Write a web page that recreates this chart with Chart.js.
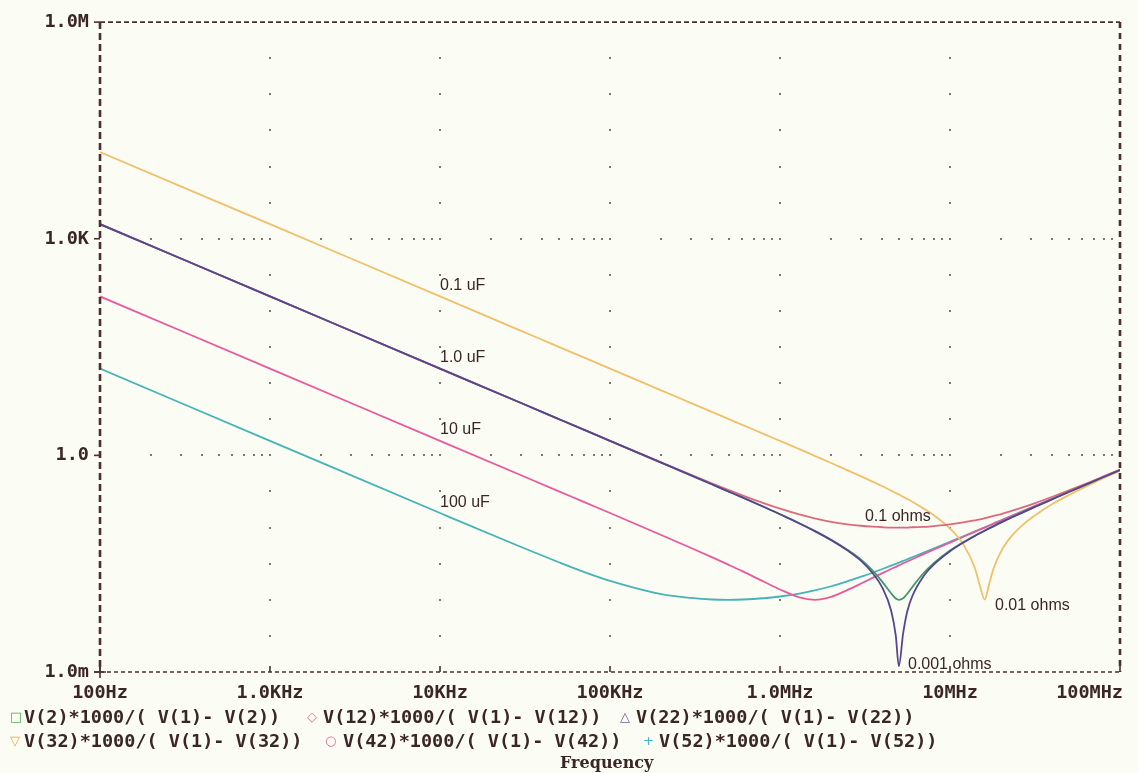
<!DOCTYPE html>
<html>
<head>
<meta charset="utf-8">
<script src="https://cdn.jsdelivr.net/npm/chart.js@4.4.1/dist/chart.umd.min.js"></script>
<style>
  html, body { margin: 0; padding: 0; background: #fbfcf3; }
  #wrap { position: relative; width: 1138px; height: 773px; }
  #chart { position: absolute; left: 0; top: 0; }
  .leg { position: absolute; font: bold 18.5px "DejaVu Sans Mono", monospace; color: #3b2626; white-space: pre; line-height: 20px; }
  .sym { position: absolute; font: 13px "DejaVu Sans", sans-serif; line-height: 20px; }
  #xtitle { position: absolute; left: 560px; top: 753px; font: bold 16px "DejaVu Serif", serif; color: #3b2626; }
</style>
</head>
<body>
<div id="wrap">
  <canvas id="chart" width="1138" height="773"></canvas>
  <div id="legend"></div>
  <div id="xtitle">Frequency</div>
</div>
<script>
// ==================== DATA ====================
const freqs = [100, 1e3, 1e4, 3e4, 5e4, 7e4, 1e5, 2e5, 3e5, 4e5, 5e5, 6e5, 8e5, 1e6,
  1.3e6, 1.6e6, 2e6, 2.5e6, 3e6, 3.5e6, 4e6, 4.5e6, 4.8e6, 5e6, 5.3e6, 5.6e6, 6e6, 7e6, 8e6,
  1e7, 1.2e7, 1.4e7, 1.5e7, 1.6e7, 1.7e7, 1.8e7, 2e7, 2.3e7, 2.7e7, 3.2e7, 4e7, 5e7, 6.5e7, 8e7, 1e8];

// V(2): 1.0 uF, 0.01 ohms
const v2 = [1590, 159, 15.9, 5.31, 3.18, 2.27, 1.59, 0.795, 0.529, 0.395, 0.315, 0.262, 0.194, 0.153,
  0.115, 0.090, 0.0677, 0.0490, 0.0360, 0.0255, 0.0177, 0.0123, 0.0104, 0.0100, 0.0105, 0.0121, 0.0150, 0.0235, 0.0320,
  0.0480, 0.0629, 0.0772, 0.0842, 0.0911, 0.0980, 0.105, 0.118, 0.138, 0.164, 0.196, 0.248, 0.311, 0.406, 0.501, 0.627];
// V(12): 1.0 uF, 0.1 ohms
const v12 = [1590, 159, 15.9, 5.31, 3.18, 2.28, 1.59, 0.801, 0.538, 0.408, 0.331, 0.280, 0.218, 0.183,
  0.152, 0.134, 0.120, 0.111, 0.106, 0.103, 0.101, 0.100, 0.100, 0.100, 0.100, 0.100, 0.101, 0.102, 0.105,
  0.111, 0.118, 0.126, 0.130, 0.135, 0.140, 0.145, 0.154, 0.170, 0.192, 0.220, 0.267, 0.327, 0.418, 0.511, 0.635];
// V(22): 1.0 uF, 0.001 ohms
const v22 = [1590, 159, 15.9, 5.31, 3.18, 2.27, 1.59, 0.795, 0.529, 0.395, 0.315, 0.262, 0.194, 0.153,
  0.114, 0.0894, 0.0670, 0.0480, 0.0346, 0.0235, 0.0147, 0.00717, 0.00316, 0.0012, 0.00342, 0.00684, 0.0112, 0.0213, 0.0304,
  0.0469, 0.0621, 0.0766, 0.0836, 0.0906, 0.0975, 0.104, 0.118, 0.138, 0.164, 0.196, 0.247, 0.311, 0.406, 0.501, 0.627];
// V(32): 0.1 uF, 0.01 ohms
const v32 = [15900, 1590, 159, 53.0, 31.8, 22.7, 15.9, 7.96, 5.30, 3.98, 3.18, 2.65, 1.98, 1.59,
  1.22, 0.985, 0.783, 0.621, 0.512, 0.433, 0.373, 0.325, 0.301, 0.287, 0.267, 0.249, 0.228, 0.183, 0.149,
  0.0968, 0.0581, 0.0276, 0.0155, 0.0101, 0.0166, 0.0266, 0.0472, 0.0760, 0.111, 0.151, 0.212, 0.282, 0.384, 0.483, 0.612];
// V(42): 10 uF, 0.01 ohms
const v42 = [159, 15.9, 1.59, 0.530, 0.318, 0.227, 0.159, 0.0790, 0.0521, 0.0386, 0.0304, 0.0249, 0.0179, 0.0139,
  0.0108, 0.0100, 0.0110, 0.0137, 0.0168, 0.0201, 0.0234, 0.0267, 0.0286, 0.0300, 0.0319, 0.0339, 0.0364, 0.0429, 0.0493,
  0.0620, 0.0747, 0.0874, 0.0937, 0.100, 0.106, 0.113, 0.125, 0.144, 0.169, 0.201, 0.251, 0.314, 0.408, 0.503, 0.628];
// V(52): 100 uF, 0.01 ohms
const v52 = [15.9, 1.59, 0.159, 0.0538, 0.0331, 0.0244, 0.0183, 0.0120, 0.0106, 0.0101, 0.0100, 0.0101, 0.0105, 0.0111,
  0.0122, 0.0135, 0.0154, 0.0181, 0.0209, 0.0237, 0.0267, 0.0297, 0.0315, 0.0327, 0.0345, 0.0363, 0.0388, 0.0449, 0.0511,
  0.0635, 0.0759, 0.0884, 0.0947, 0.101, 0.107, 0.114, 0.126, 0.145, 0.170, 0.201, 0.252, 0.314, 0.409, 0.503, 0.628];

const seriesNames = ["V(2)*1000/( V(1)- V(2))", "V(12)*1000/( V(1)- V(12))", "V(22)*1000/( V(1)- V(22))",
  "V(32)*1000/( V(1)- V(32))", "V(42)*1000/( V(1)- V(42))", "V(52)*1000/( V(1)- V(52))"];
const seriesValues = [v2, v12, v22, v32, v42, v52];

const xTicks = [100, 1e3, 1e4, 1e5, 1e6, 1e7, 1e8];
const xTickLabels = ["100Hz", "1.0KHz", "10KHz", "100KHz", "1.0MHz", "10MHz", "100MHz"];
const yTicks = [1e-3, 1, 1e3, 1e6];
const yTickLabels = ["1.0m", "1.0", "1.0K", "1.0M"];

const noteText = ["0.1 uF", "1.0 uF", "10 uF", "100 uF", "0.1 ohms", "0.01 ohms", "0.001 ohms"];
const noteFreq = [1e4, 1e4, 1e4, 1e4, 3.16e6, 1.84e7, 5.66e6];
const noteMag = [224, 22.3, 2.28, 0.225, 0.14, 0.0084, 0.00125];

// ==================== STYLE ====================
const lineColors = ["#3f9b6c", "#dc6a7e", "#574592", "#f0c06c", "#e85a9e", "#45b3b7"];
const drawOrder = [2, 1, 0, 3, 3, 3];   // lower = on top (purple 1.0 uF trace over the others)
const legendSymbols = ["\u25A1", "\u25C7", "\u25B3", "\u25BD", "\u25CB", "+"];
const legendSymColors = ["#4fae4f", "#e07080", "#7a5a9a", "#d8ae3c", "#e8609a", "#3fb6d2"];
const legendPos = [[15, 24, 717], [312, 323, 717], [625, 636, 717], [15, 24, 741], [330, 343, 741], [648, 659, 741]];
const INK = "#3b2626";
const MONO = '"DejaVu Sans Mono", monospace';

// ==================== LEGEND ====================
const legendEl = document.getElementById("legend");
seriesNames.forEach((name, i) => {
  const [sx, tx, cy] = legendPos[i];
  const s = document.createElement("span");
  s.className = "sym";
  s.style.left = (sx - 5) + "px";
  s.style.top = (cy - 10) + "px";
  s.style.color = legendSymColors[i];
  s.textContent = legendSymbols[i];
  legendEl.appendChild(s);
  const t = document.createElement("div");
  t.className = "leg";
  t.style.left = tx + "px";
  t.style.top = (cy - 10) + "px";
  t.textContent = name;
  legendEl.appendChild(t);
});

// ==================== FRAME PLUGIN ====================
const probeFrame = {
  id: "probeFrame",
  beforeDatasetsDraw(chart) {
    const { ctx, scales: { x, y } } = chart;
    ctx.save();
    ctx.fillStyle = "#85736f";
    // vertical dotted grid, a dot every half decade
    xTicks.slice(1, -1).forEach(v => {
      const px = Math.round(x.getPixelForValue(v));
      for (let k = -5; k <= 11; k++) {
        const py = Math.round(y.getPixelForValue(Math.pow(10, k / 2)));
        ctx.fillRect(px - 1, py - 1, 2, 2);
      }
    });
    // horizontal dotted grid, dots at 1..9 per decade
    yTicks.slice(1, -1).forEach(v => {
      const py = Math.round(y.getPixelForValue(v));
      for (let d = 100; d < 1e8; d *= 10) {
        for (let m = 1; m <= 9; m++) {
          if (d === 100 && m === 1) continue;
          const px = Math.round(x.getPixelForValue(d * m));
          ctx.fillRect(px - 1, py - 1, 2, 2);
        }
      }
    });
    ctx.restore();
  },
  afterDatasetsDraw(chart) {
    const { ctx, chartArea: a, scales: { x, y } } = chart;
    ctx.save();
    ctx.strokeStyle = "#4a3030";

    // dashed frame
    ctx.lineWidth = 1.6;
    ctx.setLineDash([5, 3]);
    ctx.beginPath(); ctx.moveTo(a.left, a.top); ctx.lineTo(a.right, a.top); ctx.stroke();
    ctx.setLineDash([4, 3]);
    ctx.beginPath(); ctx.moveTo(a.left, a.bottom); ctx.lineTo(a.right, a.bottom); ctx.stroke();
    ctx.lineWidth = 2.6;
    ctx.setLineDash([7, 4]);
    ctx.beginPath(); ctx.moveTo(a.left, a.top); ctx.lineTo(a.left, a.bottom); ctx.stroke();
    ctx.setLineDash([6, 5]);
    ctx.beginPath(); ctx.moveTo(a.right, a.top); ctx.lineTo(a.right, a.bottom); ctx.stroke();

    // tick marks
    ctx.setLineDash([]);
    ctx.lineWidth = 1.6;
    yTicks.forEach(v => {
      const py = y.getPixelForValue(v);
      ctx.beginPath(); ctx.moveTo(a.left - 6, py); ctx.lineTo(a.left, py); ctx.stroke();
    });
    xTicks.forEach(v => {
      const px = x.getPixelForValue(v);
      ctx.beginPath(); ctx.moveTo(px, a.bottom); ctx.lineTo(px, a.bottom - 6); ctx.stroke();
    });
    ctx.beginPath();
    ctx.moveTo(a.left - 6, a.bottom); ctx.lineTo(a.left + 6, a.bottom);
    ctx.moveTo(a.left, a.bottom - 6); ctx.lineTo(a.left, a.bottom + 6);
    ctx.stroke();

    // x tick labels
    ctx.fillStyle = INK;
    ctx.font = "bold 18.5px " + MONO;
    ctx.textBaseline = "middle";
    xTicks.forEach((v, i) => {
      const px = x.getPixelForValue(v);
      const last = i === xTicks.length - 1;
      ctx.textAlign = last ? "right" : "center";
      ctx.fillText(xTickLabels[i], last ? px + 3 : px, a.bottom + 21);
    });

    // curve annotations
    ctx.font = '16px "Liberation Sans", Arial, sans-serif';
    ctx.textAlign = "left";
    noteText.forEach((t, i) => {
      ctx.fillText(t, x.getPixelForValue(noteFreq[i]), y.getPixelForValue(noteMag[i]));
    });
    ctx.restore();
  }
};

// ==================== CHART ====================
const datasets = seriesValues.map((vals, i) => ({
  label: seriesNames[i],
  data: freqs.map((f, j) => ({ x: f, y: vals[j] })),
  borderColor: lineColors[i],
  borderWidth: 1.8,
  pointRadius: 0,
  order: drawOrder[i],
  cubicInterpolationMode: "monotone",
  fill: false
}));

new Chart(document.getElementById("chart"), {
  type: "line",
  data: { datasets },
  options: {
    responsive: false,
    animation: false,
    events: [],
    layout: { padding: { top: 22, right: 18, left: 0, bottom: 0 } },
    plugins: { legend: { display: false }, tooltip: { enabled: false } },
    scales: {
      x: {
        type: "logarithmic",
        min: 100,
        max: 1e8,
        grid: { display: false, drawTicks: false },
        border: { display: false },
        ticks: { display: false },
        afterFit: s => { s.height = 101; s.paddingLeft = 0; s.paddingRight = 0; }
      },
      y: {
        type: "logarithmic",
        min: 1e-3,
        max: 1e6,
        grid: { display: false, drawTicks: false },
        border: { display: false },
        afterBuildTicks: s => { s.ticks = yTicks.map(v => ({ value: v })); },
        ticks: {
          autoSkip: false,
          padding: 11,
          color: INK,
          font: { family: MONO, size: 18.5, weight: "bold" },
          callback: (val, i) => yTickLabels[i]
        },
        afterFit: s => { s.width = 100; }
      }
    }
  },
  plugins: [probeFrame]
});
</script>
</body>
</html>
